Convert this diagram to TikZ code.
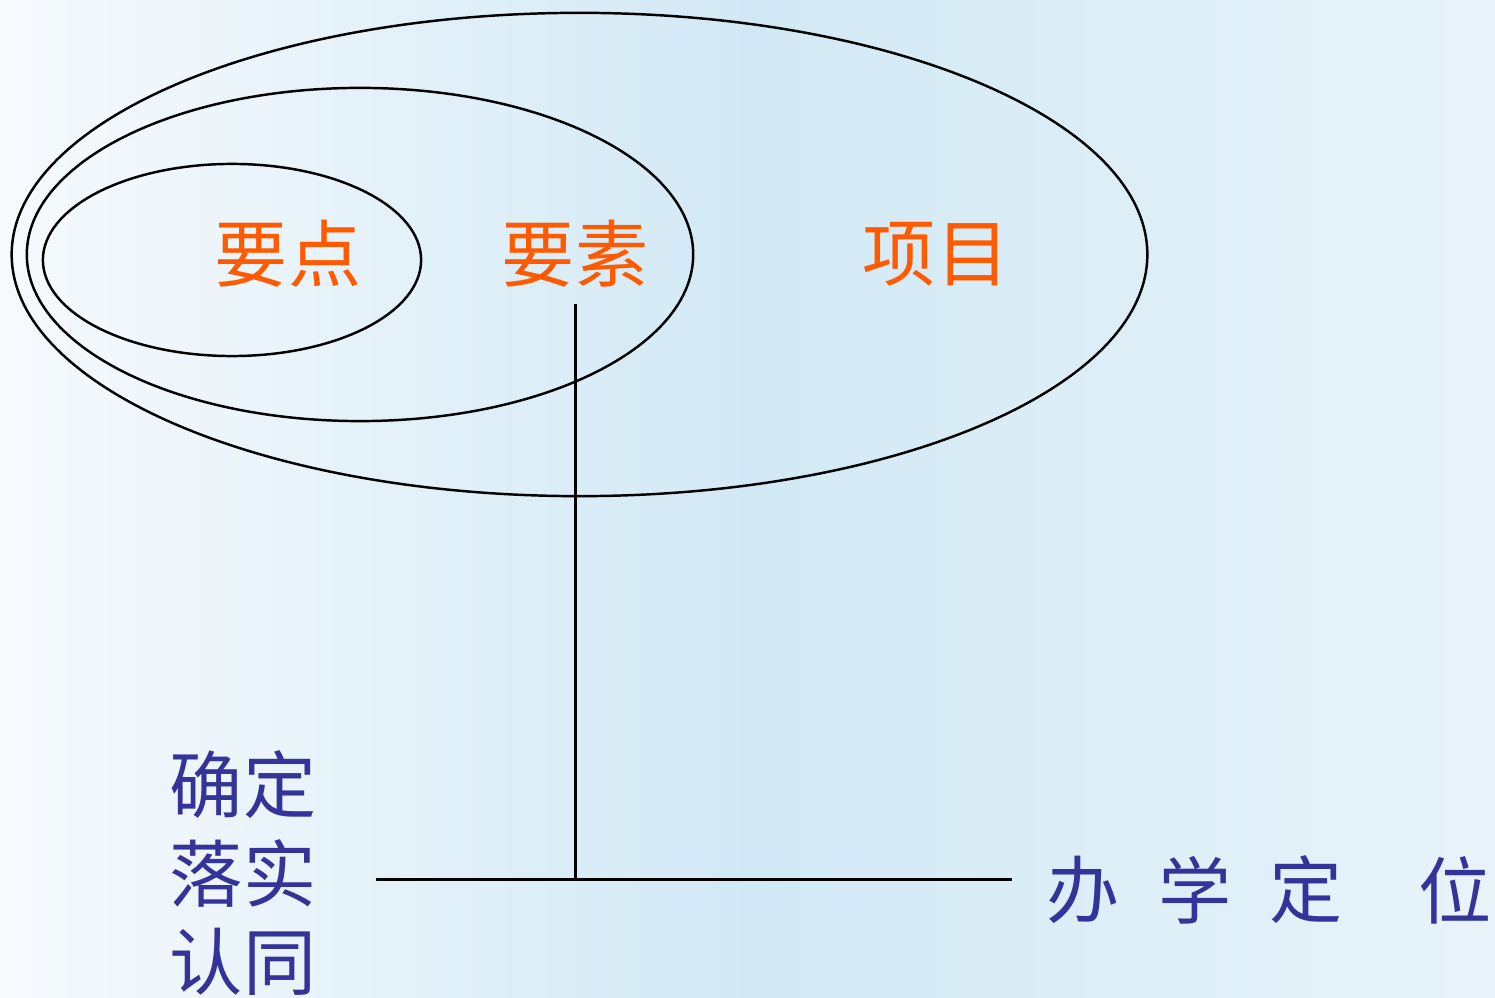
\documentclass[tikz,border=0pt]{standalone}
\usepackage{fontspec}
\newfontfamily\cjk{Noto Sans CJK SC}
\definecolor{bgleft}{HTML}{F7FAFD}
\definecolor{bgmid}{HTML}{D2E9F5}
\definecolor{bgright}{HTML}{E8F3F9}
\definecolor{orangetxt}{HTML}{FF5A00}
\definecolor{bluetxt}{HTML}{333399}
\tikzset{
  orlabel/.style={inner sep=0pt, text=orangetxt, font=\cjk\fontsize{20.8pt}{24pt}\selectfont},
  bllabel/.style={inner sep=0pt, text=bluetxt, font=\cjk\fontsize{20.8pt}{24pt}\selectfont},
  ring/.style={draw=black, line width=0.7pt},
  conn/.style={draw=black, line width=0.85pt},
}
\begin{document}
\begin{tikzpicture}[x=0.01cm,y=-0.01cm]
\useasboundingbox (0,0) rectangle (1495,998);
\shade[left color=bgleft, right color=bgright, middle color=bgmid, shading=axis] (0,0) rectangle (1495,998);
% ellipses
\draw[ring] (579.5,254.5) ellipse [x radius=5.675cm, y radius=2.415cm];
\draw[ring] (360,254.5) ellipse [x radius=3.33cm, y radius=1.665cm];
\draw[ring] (232,260) ellipse [x radius=1.89cm, y radius=0.96cm];
% labels
\node[orlabel] (yd) at (288,254) {要点};
\node[orlabel] (ys) at (575,254) {要素};
\node[orlabel] (xm) at (936,254) {项目};
\node[bllabel] (qd) at (243,785) {确定};
\node[bllabel] (ls) at (243,873) {落实};
\node[bllabel] (rt) at (243,962) {认同};
\node[bllabel] (r1) at (1083,890) {办};
\node[bllabel] (r2) at (1195,890) {学};
\node[bllabel] (r3) at (1306,890) {定};
\node[bllabel] (r4) at (1455,890) {位};
% connectors
\coordinate (vtop) at (575.5,304);
\coordinate (junc) at (575.5,879);
\coordinate (hl) at (376,879);
\coordinate (hr) at (1012,879);
\draw[conn] (vtop) -- (junc);
\draw[conn] (hl) -- (hr);
\end{tikzpicture}
\end{document}
